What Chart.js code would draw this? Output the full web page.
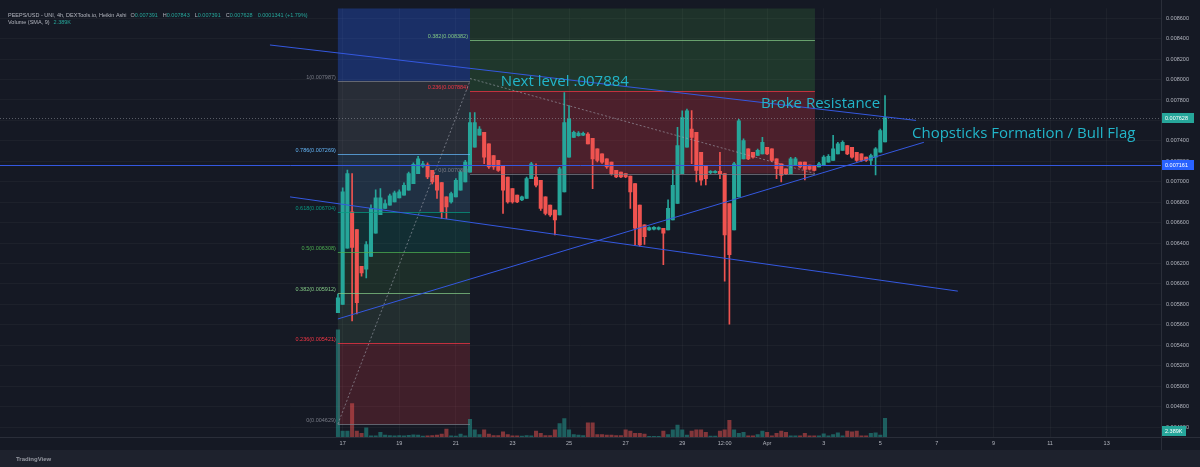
<!DOCTYPE html>
<html lang="en">
<head>
<meta charset="UTF-8" />
<title>PEEPS/USD 4h Heikin Ashi</title>
<script src="https://cdn.jsdelivr.net/npm/chart.js"></script>
<style>
  body { margin: 0; background: #151924; }
  #wrap { width: 1200px; height: 467px; }
</style>
</head>
<body>
<div id="wrap"><canvas id="haChart" width="1200" height="467"></canvas></div>
<script>
// 4h Heikin Ashi bars. x axis is in days of March (Apr 1 = 32), first bar is 16 Mar 20:00
const firstBarDay = 16 + 20 / 24;
const barStep = 4 / 24;

const haOpen = [
  0.005719, 0.005801, 0.006350, 0.006707, 0.006532, 0.006173, 0.006144, 0.006270, 0.006496, 0.006678,
  0.006739, 0.006772, 0.006804, 0.006843, 0.006869, 0.006917, 0.006982, 0.007079, 0.007153, 0.007166,
  0.007112, 0.007063, 0.006991, 0.006852, 0.006804, 0.006852, 0.006917, 0.006998, 0.007095, 0.007338,
  0.007457, 0.007483, 0.007370, 0.007257, 0.007209, 0.007160, 0.007047, 0.006933, 0.006869, 0.006823,
  0.006836, 0.007030, 0.007047, 0.007015, 0.006852, 0.006772, 0.006723, 0.006675, 0.006901, 0.007241,
  0.007435, 0.007451, 0.007457, 0.007467, 0.007425, 0.007321, 0.007273, 0.007224, 0.007192, 0.007112,
  0.007095, 0.007079, 0.007056, 0.006982, 0.006772, 0.006578, 0.006529, 0.006535, 0.006535, 0.006545,
  0.006529, 0.006626, 0.006787, 0.007079, 0.007338, 0.007516, 0.007483, 0.007289, 0.007160, 0.007088,
  0.007090, 0.007102, 0.007079, 0.006787, 0.006529, 0.006852, 0.007224, 0.007321, 0.007289, 0.007257,
  0.007273, 0.007338, 0.007321, 0.007224, 0.007176, 0.007127, 0.007079, 0.007160, 0.007192, 0.007192,
  0.007163, 0.007153, 0.007144, 0.007160, 0.007192, 0.007209, 0.007273, 0.007306, 0.007354, 0.007338,
  0.007289, 0.007273, 0.007241, 0.007209, 0.007241, 0.007289, 0.007391
];
const haHigh = [
  0.005901, 0.006940, 0.007114, 0.007079, 0.006532, 0.006173, 0.006415, 0.006775, 0.006920, 0.006933,
  0.006823, 0.006880, 0.006910, 0.006920, 0.006990, 0.007095, 0.007185, 0.007250, 0.007200, 0.007185,
  0.007112, 0.007063, 0.006991, 0.006852, 0.006900, 0.007030, 0.007110, 0.007210, 0.007678, 0.007678,
  0.007540, 0.007483, 0.007370, 0.007257, 0.007209, 0.007160, 0.007047, 0.006933, 0.006869, 0.006860,
  0.007045, 0.007190, 0.007176, 0.007015, 0.006852, 0.006772, 0.006723, 0.007140, 0.007872, 0.007746,
  0.007495, 0.007490, 0.007485, 0.007480, 0.007425, 0.007321, 0.007273, 0.007224, 0.007192, 0.007112,
  0.007095, 0.007079, 0.007056, 0.006982, 0.006772, 0.006578, 0.006560, 0.006562, 0.006560, 0.006545,
  0.006823, 0.007114, 0.007532, 0.007694, 0.007710, 0.007697, 0.007483, 0.007289, 0.007160, 0.007110,
  0.007110, 0.007289, 0.007079, 0.006787, 0.007190, 0.007610, 0.007420, 0.007321, 0.007289, 0.007320,
  0.007435, 0.007338, 0.007321, 0.007224, 0.007176, 0.007127, 0.007240, 0.007240, 0.007192, 0.007192,
  0.007163, 0.007153, 0.007190, 0.007255, 0.007265, 0.007454, 0.007385, 0.007400, 0.007354, 0.007338,
  0.007289, 0.007273, 0.007241, 0.007270, 0.007335, 0.007515, 0.007843
];
const haLow = [
  0.005719, 0.005801, 0.006350, 0.005639, 0.005707, 0.006076, 0.006059, 0.006270, 0.006496, 0.006678,
  0.006739, 0.006772, 0.006804, 0.006843, 0.006869, 0.006917, 0.006982, 0.007079, 0.007140, 0.007030,
  0.006980, 0.006836, 0.006639, 0.006639, 0.006790, 0.006852, 0.006917, 0.006998, 0.007095, 0.007338,
  0.007457, 0.007176, 0.007130, 0.007120, 0.007100, 0.006690, 0.006790, 0.006790, 0.006795, 0.006815,
  0.006836, 0.007030, 0.006950, 0.006720, 0.006675, 0.006660, 0.006481, 0.006675, 0.006901, 0.007241,
  0.007435, 0.007445, 0.007450, 0.007370, 0.006933, 0.007195, 0.007180, 0.007130, 0.007065, 0.007040,
  0.007040, 0.007040, 0.006739, 0.006383, 0.006370, 0.006387, 0.006525, 0.006530, 0.006530, 0.006189,
  0.006529, 0.006626, 0.006787, 0.007079, 0.007338, 0.007176, 0.006998, 0.006966, 0.006969, 0.007080,
  0.007085, 0.007030, 0.006027, 0.005607, 0.006529, 0.006852, 0.007224, 0.007215, 0.007230, 0.007257,
  0.007273, 0.007265, 0.007200, 0.007030, 0.006998, 0.007070, 0.007079, 0.007160, 0.007135, 0.007017,
  0.007115, 0.007105, 0.007144, 0.007160, 0.007192, 0.007209, 0.007273, 0.007306, 0.007265, 0.007230,
  0.007200, 0.007200, 0.007200, 0.007163, 0.007066, 0.007289, 0.007391
];
const haClose = [
  0.005865, 0.006901, 0.007079, 0.006357, 0.005816, 0.006108, 0.006386, 0.006739, 0.006843, 0.006843,
  0.006787, 0.006862, 0.006891, 0.006901, 0.006966, 0.007079, 0.007170, 0.007224, 0.007176, 0.007047,
  0.006998, 0.006917, 0.006707, 0.006755, 0.006884, 0.007015, 0.007095, 0.007192, 0.007580, 0.007580,
  0.007516, 0.007241, 0.007144, 0.007144, 0.007112, 0.006917, 0.006804, 0.006804, 0.006804, 0.006852,
  0.007030, 0.007176, 0.006966, 0.006739, 0.006690, 0.006675, 0.006626, 0.007127, 0.007580, 0.007613,
  0.007483, 0.007477, 0.007474, 0.007370, 0.007224, 0.007209, 0.007192, 0.007144, 0.007079, 0.007047,
  0.007047, 0.007047, 0.006901, 0.006545, 0.006383, 0.006464, 0.006551, 0.006555, 0.006552, 0.006496,
  0.006739, 0.006966, 0.007354, 0.007629, 0.007694, 0.007435, 0.007112, 0.007015, 0.007030, 0.007102,
  0.007102, 0.007079, 0.006481, 0.006286, 0.007176, 0.007597, 0.007403, 0.007224, 0.007241, 0.007308,
  0.007386, 0.007273, 0.007209, 0.007127, 0.007063, 0.007079, 0.007224, 0.007224, 0.007144, 0.007121,
  0.007124, 0.007112, 0.007176, 0.007241, 0.007250, 0.007321, 0.007370, 0.007386, 0.007273, 0.007241,
  0.007209, 0.007209, 0.007209, 0.007257, 0.007321, 0.007500, 0.007628
];
// volume in thousands
const volumeK = [
  45, 2.5, 2.5, 14, 2.5, 1.5, 3.8, 0.5, 0.5, 2,
  0.8, 0.6, 0.5, 0.6, 0.5, 0.7, 0.9, 0.8, 0.4, 0.5,
  0.6, 0.8, 1.2, 3.3, 0.5, 0.4, 1.2, 0.5, 7.4, 3,
  1, 3, 1.2, 0.6, 0.6, 2.2, 1, 0.5, 0.5, 0.4,
  0.6, 0.5, 2.5, 1.5, 0.6, 0.6, 3, 5.6, 7.7, 3,
  1, 0.8, 0.6, 6, 6, 1, 1, 0.8, 0.8, 0.6,
  0.6, 3, 2.5, 1.5, 1.5, 1.2, 0.3, 0.3, 0.3, 2.5,
  1, 3, 5, 3, 0.8, 2.5, 3, 3, 2, 0.4,
  0.4, 2.5, 3, 7, 3, 1.5, 2, 0.5, 0.5, 1,
  2.5, 2, 0.5, 1.5, 2.5, 2, 0.5, 0.5, 0.5, 1.5,
  0.5, 0.5, 0.5, 1.3, 0.5, 1, 1.8, 0.5, 2.5, 2.2,
  2.5, 0.5, 0.5, 1.5, 1.8, 0.8, 7.8
];

const dayTicks = [17, 19, 21, 23, 25, 27, 29, 30.5, 32, 34, 36, 38, 40, 42, 44];
const dayTickLabels = ['17', '19', '21', '23', '25', '27', '29', '12:00', 'Apr', '3', '5', '7', '9', '11', '13'];
const priceTicks = [
  0.0046, 0.0048, 0.0050, 0.0052, 0.0054, 0.0056, 0.0058, 0.0060, 0.0062, 0.0064, 0.0066,
  0.0068, 0.0070, 0.0072, 0.0074, 0.0076, 0.0078, 0.0080, 0.0082, 0.0084, 0.0086
];

// fib retracement 1 (launch low to first top)
const fibAFrom = 16.83, fibATo = 21.5;
const fibALevels = ['0', '0.236', '0.382', '0.5', '0.618', '0.786', '1'];
const fibAPrices = [0.004629, 0.005421, 0.005912, 0.006308, 0.006704, 0.007269, 0.007987];
const fibAColors = ['#787b86', '#f23645', '#81c784', '#4caf50', '#089981', '#64b5f6', '#787b86'];
const fibAFills = ['rgba(242,54,69,0.2)', 'rgba(129,199,132,0.12)', 'rgba(76,175,80,0.14)',
  'rgba(8,153,129,0.17)', 'rgba(100,181,246,0.15)', 'rgba(120,123,134,0.2)', 'rgba(41,98,255,0.3)'];
// fib retracement 2
const fibBFrom = 21.5, fibBTo = 33.69;
const fibBLevels = ['0', '0.236', '0.382'];
const fibBPrices = [0.007080, 0.007884, 0.008382];
const fibBColors = ['#787b86', '#f23645', '#81c784'];
const fibBFills = ['rgba(242,54,69,0.25)', 'rgba(76,175,80,0.2)', 'rgba(76,175,80,0.17)'];

// drawn lines: [day1, price1, day2, price2]
const trendLines = [
  [14.43, 0.008338, 37.26, 0.007600],
  [15.14, 0.006852, 38.74, 0.005930],
  [16.83, 0.005658, 37.54, 0.007386]
];
const fibDashes = [
  [16.83, 0.004629, 21.5, 0.007987],
  [21.5, 0.008010, 33.69, 0.007080]
];
const supportLevel = 0.007161;
const lastPrice = 0.007628;
const volumeSma = 2.389;

const notes = [
  { text: 'Next level .007884', day: 22.59, price: 0.007979 },
  { text: 'Broke Resistance', day: 31.78, price: 0.007765 },
  { text: 'Chopsticks Formation / Bull Flag', day: 37.12, price: 0.007474 }
];

const UP = '#26a69a', DOWN = '#ef5350';
const times = haOpen.map((_, i) => firstBarDay + i * barStep);
const isUp = haOpen.map((o, i) => haClose[i] >= o);
const SMALL = '5.5px "Liberation Sans", sans-serif';

function seg(c, x, y, d) {
  c.beginPath();
  c.moveTo(x.getPixelForValue(d[0]), y.getPixelForValue(d[1]));
  c.lineTo(x.getPixelForValue(d[2]), y.getPixelForValue(d[3]));
  c.stroke();
}

const overlay = {
  id: 'overlay',
  beforeDraw(chart) {
    const c = chart.ctx;
    c.save();
    c.fillStyle = '#151924';
    c.fillRect(0, 0, chart.width, chart.height);
    c.restore();
  },
  beforeDatasetsDraw(chart) {
    const { ctx: c, chartArea: a, scales: { x, y } } = chart;
    c.save();
    c.beginPath();
    c.rect(a.left, a.top, a.right - a.left, a.bottom - a.top);
    c.clip();
    // fib 1 zones
    let x1 = x.getPixelForValue(fibAFrom), x2 = x.getPixelForValue(fibATo);
    for (let i = 0; i < fibAPrices.length; i++) {
      const yLow = y.getPixelForValue(fibAPrices[i]);
      const yHigh = i < fibAPrices.length - 1 ? y.getPixelForValue(fibAPrices[i + 1]) : a.top;
      c.fillStyle = fibAFills[i];
      c.fillRect(x1, yHigh, x2 - x1, yLow - yHigh);
    }
    // fib 2 zones
    x1 = x.getPixelForValue(fibBFrom); x2 = x.getPixelForValue(fibBTo);
    for (let i = 0; i < fibBPrices.length; i++) {
      const yLow = y.getPixelForValue(fibBPrices[i]);
      const yHigh = i < fibBPrices.length - 1 ? y.getPixelForValue(fibBPrices[i + 1]) : a.top;
      c.fillStyle = fibBFills[i];
      c.fillRect(x1, yHigh, x2 - x1, yLow - yHigh);
    }
    c.restore();
  },
  afterDatasetsDraw(chart) {
    const { ctx: c, chartArea: a, scales: { x, y } } = chart;
    c.save();
    c.beginPath();
    c.rect(a.left, a.top, a.right - a.left, a.bottom - a.top);
    c.clip();
    c.lineWidth = 1;

    // fib level lines + labels
    c.font = SMALL;
    c.textAlign = 'right';
    c.textBaseline = 'bottom';
    const fibs = [
      [fibAFrom, fibATo, fibALevels, fibAPrices, fibAColors],
      [fibBFrom, fibBTo, fibBLevels, fibBPrices, fibBColors]
    ];
    fibs.forEach(([d1, d2, lv, pr, col]) => {
      const px1 = x.getPixelForValue(d1), px2 = x.getPixelForValue(d2);
      pr.forEach((p, i) => {
        const py = Math.round(y.getPixelForValue(p)) + 0.5;
        c.strokeStyle = col[i];
        c.globalAlpha = 0.75;
        c.beginPath(); c.moveTo(px1, py); c.lineTo(px2, py); c.stroke();
        c.globalAlpha = 1;
        c.fillStyle = col[i];
        c.fillText(lv[i] + '(' + p.toFixed(6) + ')', px1 - 2, py - 1);
      });
    });

    // fib trend lines (dashed)
    c.strokeStyle = 'rgba(160,163,175,0.6)';
    c.setLineDash([2, 2]);
    fibDashes.forEach(d => seg(c, x, y, d));

    // last price dotted line
    c.setLineDash([1, 2]);
    c.strokeStyle = 'rgba(170,175,185,0.45)';
    let py = Math.round(y.getPixelForValue(lastPrice)) + 0.5;
    c.beginPath(); c.moveTo(a.left, py); c.lineTo(a.right, py); c.stroke();
    c.setLineDash([]);

    // horizontal support and trend lines
    c.strokeStyle = '#3458e0';
    py = Math.round(y.getPixelForValue(supportLevel)) + 0.5;
    c.beginPath(); c.moveTo(a.left, py); c.lineTo(a.right, py); c.stroke();
    trendLines.forEach(d => seg(c, x, y, d));

    // notes
    c.font = '15px "Open Sans", sans-serif';
    c.textAlign = 'left';
    c.textBaseline = 'middle';
    c.fillStyle = '#22b5c9';
    notes.forEach(n => c.fillText(n.text, x.getPixelForValue(n.day), y.getPixelForValue(n.price)));
    c.restore();
  },
  afterDraw(chart) {
    const { ctx: c, chartArea: a, scales: { y, yv } } = chart;
    c.save();
    // pane borders
    c.strokeStyle = '#2a2e39';
    c.lineWidth = 1;
    c.beginPath();
    c.moveTo(Math.round(a.right) + 0.5, 0); c.lineTo(Math.round(a.right) + 0.5, a.bottom + 13);
    c.moveTo(0, Math.round(a.bottom) + 0.5); c.lineTo(chart.width, Math.round(a.bottom) + 0.5);
    c.stroke();
    // bottom strip
    c.fillStyle = '#1e222d';
    c.fillRect(0, a.bottom + 13, chart.width, chart.height - a.bottom - 13);
    c.font = 'bold 6px "Liberation Sans", sans-serif';
    c.fillStyle = '#9598a1';
    c.textBaseline = 'middle';
    c.textAlign = 'left';
    c.fillText('TradingView', 16, a.bottom + 22);

    // header legend
    c.font = SMALL;
    c.textBaseline = 'middle';
    let hx = a.left + 8;
    const put = (t, col, gap) => { c.fillStyle = col; c.fillText(t, hx, a.top + 7); hx += c.measureText(t).width + (gap || 0); };
    put('PEEPS/USD - UNI, 4h, DEXTools.io, Heikin Ashi', '#b2b5be', 4);
    const ohlc = [['O', haOpen], ['H', haHigh], ['L', haLow], ['C', haClose]];
    const n = haOpen.length - 1;
    ohlc.forEach(([k, arr]) => { put(k, '#b2b5be'); put(arr[n].toFixed(6), UP, 5); });
    put('0.0001341 (+1.79%)', UP);
    hx = a.left + 8;
    c.fillStyle = '#b2b5be';
    c.fillText('Volume (SMA, 9)', hx, a.top + 14);
    hx += c.measureText('Volume (SMA, 9)').width + 4;
    c.fillStyle = UP;
    c.fillText(volumeSma.toFixed(3) + 'K', hx, a.top + 14);

    // axis tags
    const tag = (pyv, text, bg, w) => {
      c.fillStyle = bg;
      c.fillRect(a.right + 1, Math.round(pyv) - 5, w, 10);
      c.fillStyle = '#ffffff';
      c.fillText(text, a.right + 4, Math.round(pyv));
    };
    tag(y.getPixelForValue(lastPrice), lastPrice.toFixed(6), UP, 32);
    tag(y.getPixelForValue(supportLevel), supportLevel.toFixed(6), '#2962ff', 32);
    tag(yv.getPixelForValue(volumeSma), volumeSma.toFixed(3) + 'K', UP, 24);
    c.restore();
  }
};

const ctx = document.getElementById('haChart').getContext('2d');

new Chart(ctx, {
  type: 'bar',
  data: {
    datasets: [
      {
        label: 'volume',
        yAxisID: 'yv',
        data: times.map((t, i) => ({ x: t, y: volumeK[i] })),
        backgroundColor: isUp.map(u => u ? 'rgba(38,166,154,0.5)' : 'rgba(239,83,80,0.5)'),
        barThickness: 3.4,
        grouped: false,
        order: 3
      },
      {
        label: 'wick',
        yAxisID: 'y',
        data: times.map((t, i) => ({ x: t, y: [haLow[i], haHigh[i]] })),
        backgroundColor: isUp.map(u => u ? UP : DOWN),
        barThickness: 1,
        grouped: false,
        order: 2
      },
      {
        label: 'body',
        yAxisID: 'y',
        data: times.map((t, i) => ({ x: t, y: [haOpen[i], haClose[i]] })),
        backgroundColor: isUp.map(u => u ? UP : DOWN),
        barThickness: 3.4,
        minBarLength: 1,
        grouped: false,
        order: 1
      }
    ]
  },
  options: {
    responsive: false,
    animation: false,
    devicePixelRatio: 1,
    events: [],
    layout: { padding: { top: 5, bottom: 17, left: 0, right: 0 } },
    plugins: { legend: { display: false }, tooltip: { enabled: false } },
    scales: {
      x: {
        type: 'linear',
        offset: false,
        min: 4.89,
        max: 45.92,
        afterBuildTicks: s => { s.ticks = dayTicks.map(v => ({ value: v })); },
        afterFit: s => { s.height = 13; },
        ticks: {
          callback: (v, i) => dayTickLabels[i],
          autoSkip: false,
          maxRotation: 0,
          padding: 3,
          color: '#b2b5be',
          font: { size: 5.5, family: 'Liberation Sans' }
        },
        grid: { color: 'rgba(255,255,255,0.035)', drawTicks: false, offset: false },
        border: { display: false }
      },
      y: {
        type: 'linear',
        position: 'right',
        min: 0.004503,
        max: 0.008697,
        afterBuildTicks: s => { s.ticks = priceTicks.map(v => ({ value: v })); },
        afterFit: s => { s.width = 39; },
        ticks: {
          callback: v => v.toFixed(6),
          padding: 5,
          color: '#b2b5be',
          font: { size: 5.5, family: 'Liberation Sans' }
        },
        grid: { color: 'rgba(255,255,255,0.035)', drawTicks: false },
        border: { display: false }
      },
      yv: { type: 'linear', display: false, min: 0, max: 180 }
    }
  },
  plugins: [overlay]
});
</script>
</body>
</html>
